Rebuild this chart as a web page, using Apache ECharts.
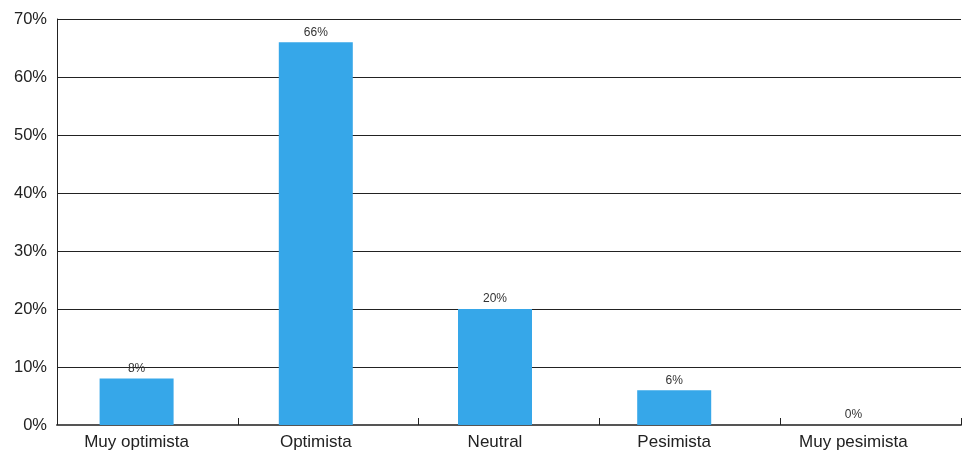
<!DOCTYPE html>
<html>
<head>
<meta charset="utf-8">
<script src="https://cdn.jsdelivr.net/npm/echarts@6/dist/echarts.min.js"></script>
<style>html,body{margin:0;padding:0;background:#fff;}#c{width:971px;height:453px;}</style>
</head>
<body>
<div id="c"></div>
<script>
var categories = ['Muy optimista', 'Optimista', 'Neutral', 'Pesimista', 'Muy pesimista'];
var values = [8, 66, 20, 6, 0];
var yTicks = [0, 10, 20, 30, 40, 50, 60, 70];

var chart = echarts.init(document.getElementById('c'), null, {renderer: 'canvas'});
var font = '"Liberation Sans", Arial, sans-serif';
chart.setOption({
  animation: false,
  grid: [
    {left: 57, right: 10, top: 19, bottom: 28},
    {left: 47, right: 28, top: 19, bottom: 28}
  ],
  xAxis: [
    {
      gridIndex: 0, type: 'category', data: categories,
      axisLine: {lineStyle: {color: '#555', width: 2}},
      axisTick: {show: true, inside: true, length: 7, lineStyle: {color: '#222', width: 1}},
      axisLabel: {show: false},
      splitLine: {show: false}
    },
    {
      gridIndex: 1, type: 'category', data: categories,
      axisLine: {show: false},
      axisTick: {show: false},
      axisLabel: {color: '#222', fontSize: 17, fontFamily: font, margin: 9},
      splitLine: {show: false}
    }
  ],
  yAxis: [
    {
      gridIndex: 0, type: 'value', min: yTicks[0], max: yTicks[yTicks.length - 1], interval: 10,
      axisLine: {show: true, lineStyle: {color: '#222', width: 1}},
      axisTick: {show: false},
      axisLabel: {color: '#222', fontSize: 16.5, fontFamily: font, margin: 10, formatter: '{value}%'},
      splitLine: {show: true, lineStyle: {color: '#222', width: 1}}
    },
    {
      gridIndex: 1, type: 'value', min: yTicks[0], max: yTicks[yTicks.length - 1], interval: 10,
      show: false
    }
  ],
  series: [{
    type: 'bar', xAxisIndex: 1, yAxisIndex: 1,
    data: values, barWidth: 74,
    itemStyle: {color: '#36A7E9'},
    label: {show: true, position: 'top', distance: 4, color: '#333', fontSize: 12, fontFamily: font, formatter: '{c}%'}
  }]
});
</script>
</body>
</html>
